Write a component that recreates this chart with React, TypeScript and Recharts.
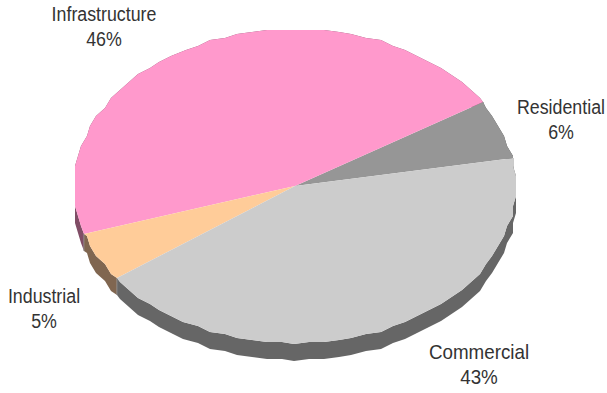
import { Cell, Pie, PieChart } from 'recharts';

const categories = ['Residential', 'Infrastructure', 'Industrial', 'Commercial'];
const shares = [6, 46, 5, 43];
const topColors = ['#969696', '#ff99cc', '#ffcc99', '#cccccc'];
const wallColors = ['#4b4b4b', '#804d66', '#806650', '#666666'];

const rows = categories.map((name, i) => ({ name, value: shares[i] }));

const CX = 295;
const CY = 186;
const RADIUS = 221;
const SQUASH = 157 / 221;
const DEPTH = 17;
const START_ANGLE = 10.5;
const FONT = '"Liberation Sans", Arial, sans-serif';

// label centre x, first baseline y and horizontal squeeze for each slice
const labelSpots = [
  { x: 561, y: 114, narrow: 0.89 },
  { x: 104, y: 21, narrow: 0.89 },
  { x: 44, y: 303, narrow: 0.89 },
  { x: 479, y: 359, narrow: 0.94 }
];

// the rim is a coarse polygon, with points snapped to a rough grid
const rimPoints = (startAngle: number, endAngle: number) => {
  const angles = [startAngle];
  const step = 3.75;
  for (let a = Math.ceil(startAngle / step + 0.01) * step; a < endAngle; a += step) angles.push(a);
  angles.push(endAngle);
  return angles.map(a => {
    const rad = (a * Math.PI) / 180;
    return {
      x: Math.round((CX + RADIUS * Math.cos(rad)) / 3) * 3,
      y: Math.round((CY - RADIUS * SQUASH * Math.sin(rad)) / 2) * 2
    };
  });
};

const toPath = (pts: { x: number; y: number }[]) =>
  pts.map((p, i) => `${i ? 'L' : 'M'}${p.x} ${p.y}`).join(' ') + ' Z';

const TopSlice = (props: any) => {
  const pts = rimPoints(props.startAngle, props.endAngle);
  return <path d={toPath([{ x: CX, y: CY }, ...pts])} fill={props.fill} stroke="none" />;
};

const WallSlice = (props: any) => {
  const pts = rimPoints(props.startAngle, props.endAngle);
  const lower = pts.map(p => ({ x: p.x, y: p.y + DEPTH })).reverse();
  const first = pts[0];
  const last = pts[pts.length - 1];
  return (
    <g>
      <path d={toPath([...pts, ...lower])} fill={props.fill} stroke="none" />
      <line x1={first.x} y1={first.y} x2={first.x} y2={first.y + DEPTH} stroke="#999999" strokeWidth={0.6} />
      <line x1={last.x} y1={last.y} x2={last.x} y2={last.y + DEPTH} stroke="#999999" strokeWidth={0.6} />
    </g>
  );
};

const sliceLabel = (props: any) => {
  const spot = labelSpots[props.index];
  return (
    <g transform={`translate(${spot.x} 0) scale(${spot.narrow} 1)`}>
      <text textAnchor="middle" fontFamily={FONT} fontSize={20} fill="#333333">
        <tspan x={0} y={spot.y}>{props.name}</tspan>
        <tspan x={0} y={spot.y + 25}>{`${props.value}%`}</tspan>
      </text>
    </g>
  );
};

export default function App() {
  return (
    <div style={{ position: 'absolute', left: 0, top: 0, width: 607, height: 393, background: '#ffffff' }}>
      <PieChart width={607} height={393}>
        <Pie
          data={rows}
          dataKey="value"
          cx={CX}
          cy={CY}
          outerRadius={RADIUS}
          startAngle={START_ANGLE}
          endAngle={START_ANGLE + 360}
          shape={WallSlice}
          stroke="none"
          isAnimationActive={false}
        >
          {rows.map((row, i) => (
            <Cell key={row.name} fill={wallColors[i]} />
          ))}
        </Pie>
        <Pie
          data={rows}
          dataKey="value"
          cx={CX}
          cy={CY}
          outerRadius={RADIUS}
          startAngle={START_ANGLE}
          endAngle={START_ANGLE + 360}
          shape={TopSlice}
          stroke="none"
          label={sliceLabel}
          labelLine={false}
          isAnimationActive={false}
        >
          {rows.map((row, i) => (
            <Cell key={row.name} fill={topColors[i]} />
          ))}
        </Pie>
      </PieChart>
    </div>
  );
}
